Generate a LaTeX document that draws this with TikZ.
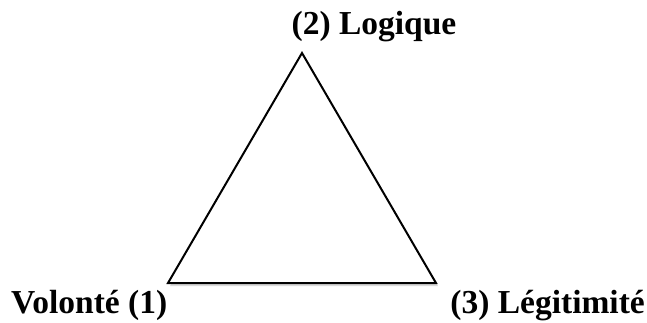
\documentclass[tikz,border=0pt]{standalone}
\usepackage{fontspec}
\setmainfont{Liberation Serif}
\usetikzlibrary{shadows}
\definecolor{shadowgray}{RGB}{150,150,150}

\begin{document}
\begin{tikzpicture}[x=1pt, y=-1pt, line join=miter,
    lbl/.style={font=\fontsize{33.5}{40}\selectfont\bfseries, inner sep=0pt}]
    \useasboundingbox (0,0) rectangle (647,322);
    \coordinate (logique) at (302, 53);
    \coordinate (volonte) at (168, 283);
    \coordinate (legit) at (436, 283);
    \draw[line width=2pt, fill=white,
      drop shadow={shadow xshift=2pt, shadow yshift=-3pt, opacity=0.35, fill=shadowgray}]
      (volonte) -- (logique) -- (legit) -- cycle;
    \node[lbl, anchor=base] (tlog) at (374, 34) {(2) Logique};
    \node[lbl, anchor=base west] (tvol) at (11, 313) {Volonté (1)};
    \node[lbl, anchor=base east] (tleg) at (645, 313) {(3) Légitimité};
  \end{tikzpicture}
\end{document}
